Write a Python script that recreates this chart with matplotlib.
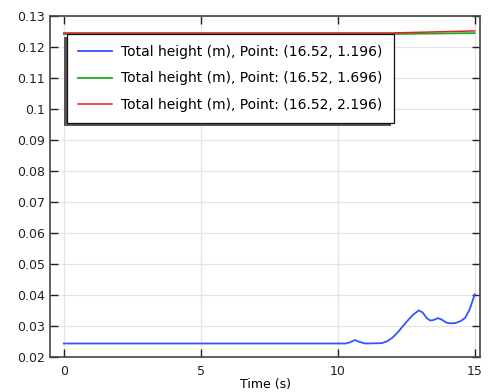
import numpy as np
import matplotlib.pyplot as plt
from matplotlib.patches import Rectangle
from matplotlib.transforms import IdentityTransform

# valores
t_blue = [0, 10.3, 10.45, 10.62, 10.8, 11.0, 11.6, 11.8, 12.0, 12.2, 12.5, 12.75,
          12.96, 13.1, 13.25, 13.38, 13.5, 13.66, 13.8, 13.95, 14.1, 14.3, 14.5,
          14.65, 14.8, 14.9, 15.0]
h_blue = [0.0243, 0.0243, 0.0247, 0.0254, 0.0248, 0.0243, 0.0244, 0.0250, 0.0262,
          0.0280, 0.0312, 0.0336, 0.0350, 0.0343, 0.0325, 0.0317, 0.0319, 0.0325,
          0.0320, 0.0311, 0.0308, 0.0309, 0.0316, 0.0326, 0.0350, 0.0375, 0.0402]

t_green = [0, 12.0, 15.0]
h_green = [0.1243, 0.1243, 0.1246]

t_red = [0, 12.0, 15.0]
h_red = [0.12465, 0.12465, 0.1253]

etiquetas = ['Total height (m), Point: (16.52, 1.196)',
             'Total height (m), Point: (16.52, 1.696)',
             'Total height (m), Point: (16.52, 2.196)']

xticks = [0, 5, 10, 15]
yticks = [0.02, 0.03, 0.04, 0.05, 0.06, 0.07, 0.08, 0.09, 0.1, 0.11, 0.12, 0.13]
ytick_labels = ['0.02', '0.03', '0.04', '0.05', '0.06', '0.07', '0.08', '0.09',
                '0.1', '0.11', '0.12', '0.13']

fig = plt.figure(figsize=(4.89, 3.92), dpi=100)
ax = fig.add_axes([0.102, 0.089, 0.880, 0.870])

ax.plot(t_blue, h_blue, color='#3355ff', lw=1.3, label=etiquetas[0])
ax.plot(t_green, h_green, color='#22aa22', lw=1.3, label=etiquetas[1])
ax.plot(t_red, h_red, color='#dd2222', lw=1.1, label=etiquetas[2])

ax.set_xlim(-0.51, 15.2)
ax.set_ylim(0.0199, 0.1301)
ax.set_xticks(xticks)
ax.set_yticks(yticks)
ax.set_yticklabels(ytick_labels)
ax.grid(True, color='#e4e4e4', lw=0.9)
ax.set_axisbelow(True)
ax.tick_params(direction='in', length=6, width=1, top=True, right=True,
               labelsize=9, colors='#222222')
ax.tick_params(axis='x', pad=6)
for s in ax.spines.values():
    s.set_color('#444444')
    s.set_linewidth(1.2)

ax.set_xlabel('Time (s)', fontsize=9, labelpad=0)

leg = ax.legend(loc='upper left', bbox_to_anchor=(0.040, 0.948), borderaxespad=0,
                fancybox=False, shadow=False, framealpha=1, edgecolor='#111111',
                fontsize=10, handlelength=2.45, labelspacing=0.9,
                borderpad=0.8, handletextpad=0.65)
leg.get_frame().set_linewidth(0.9)
leg.set_zorder(6)

# sombra desplazada hacia abajo a la izquierda
fig.canvas.draw()
bb = leg.get_window_extent()
sombra = Rectangle((bb.x0 - 3, bb.y0 - 3), bb.width, bb.height,
                   transform=IdentityTransform(), facecolor='#555555',
                   edgecolor='none', clip_on=False, zorder=5.9)
ax.add_patch(sombra)

fig.savefig('out.png', dpi=100)
